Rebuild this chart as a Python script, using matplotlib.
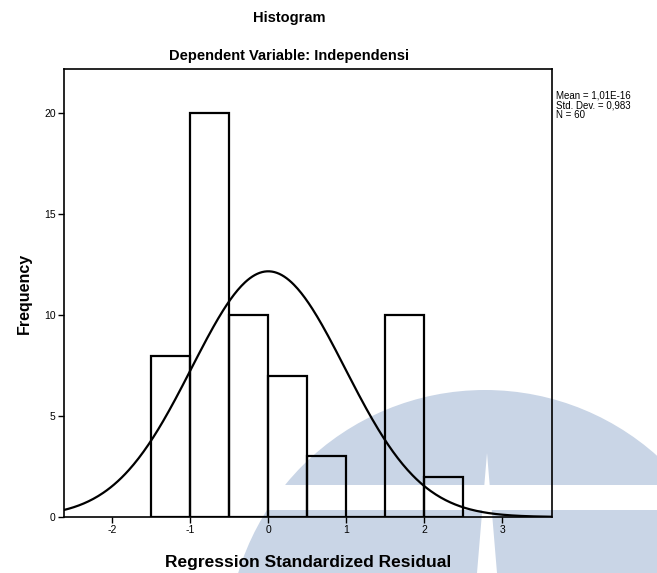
import numpy as np
import matplotlib
matplotlib.use("Agg")
import matplotlib.pyplot as plt
from matplotlib.patches import Circle, Rectangle, Polygon

# ------------------------------------------------------------------
# Data
# ------------------------------------------------------------------
bin_edges = [-1.5, -1.0, -0.5, 0.0, 0.5, 1.0, 1.5, 2.0, 2.5]
counts = [8, 20, 10, 7, 3, 0, 10, 2]
mean_res = 1.01e-16
std_res = 0.983
n_obs = 60

x_ticks = [-2, -1, 0, 1, 2, 3]
y_ticks = [0, 5, 10, 15, 20]

plt.rcParams["font.family"] = ["Liberation Sans", "DejaVu Sans"]
plt.rcParams["axes.unicode_minus"] = False

W, H = 657, 573
fig = plt.figure(figsize=(W / 100, H / 100), dpi=100)

# scan watermark behind everything (pixel coordinates)
bg = fig.add_axes([0, 0, 1, 1], zorder=-1)
bg.set_xlim(0, W)
bg.set_ylim(H, 0)
bg.axis("off")
wm = "#c9d5e6"
bg.add_patch(Circle((485, 648), 258, color=wm, lw=0))
bg.add_patch(Rectangle((200, 485), 460, 25, color="white", lw=0))
bg.add_patch(Polygon([(487, 453), (477, 573), (497, 573)], closed=True,
                     color="white", lw=0))

ax = fig.add_axes([64 / W, 1 - 517 / H, (552 - 64) / W, (517 - 69) / H])
ax.set_facecolor("none")

widths = np.diff(bin_edges)
ax.bar(bin_edges[:-1], counts, width=widths, align="edge",
       fill=False, edgecolor="black", linewidth=1.6)

xmin, xmax = -2.62, 3.64
xs = np.linspace(xmin, xmax, 400)
bw = widths[0]
ys = n_obs * bw / (std_res * np.sqrt(2 * np.pi)) * np.exp(-0.5 * ((xs - mean_res) / std_res) ** 2)
ax.plot(xs, ys, color="black", lw=1.6)

ax.set_xlim(xmin, xmax)
ax.set_ylim(0, 22.2)
ax.set_xticks(x_ticks)
ax.set_yticks(y_ticks)
ax.tick_params(direction="out", length=4, width=1, labelsize=7.5, pad=2)
for s in ax.spines.values():
    s.set_linewidth(1.2)

ax.set_xlabel("Regression Standardized Residual", fontsize=12.5, fontweight="bold",
              labelpad=14)
ax.set_ylabel("Frequency", fontsize=11.5, fontweight="bold", labelpad=9)

fig.text(289 / W, 1 - 18 / H, "Histogram", ha="center", va="center",
         fontsize=10.5, fontweight="bold")
fig.text(289 / W, 1 - 56 / H, "Dependent Variable: Independensi", ha="center",
         va="center", fontsize=10.5, fontweight="bold")

fig.text(556 / W, 1 - 91 / H,
         "Mean = 1,01E-16\nStd. Dev. = 0,983\nN = 60",
         ha="left", va="top", fontsize=7, linespacing=0.95)

fig.savefig("out.png", dpi=100)
